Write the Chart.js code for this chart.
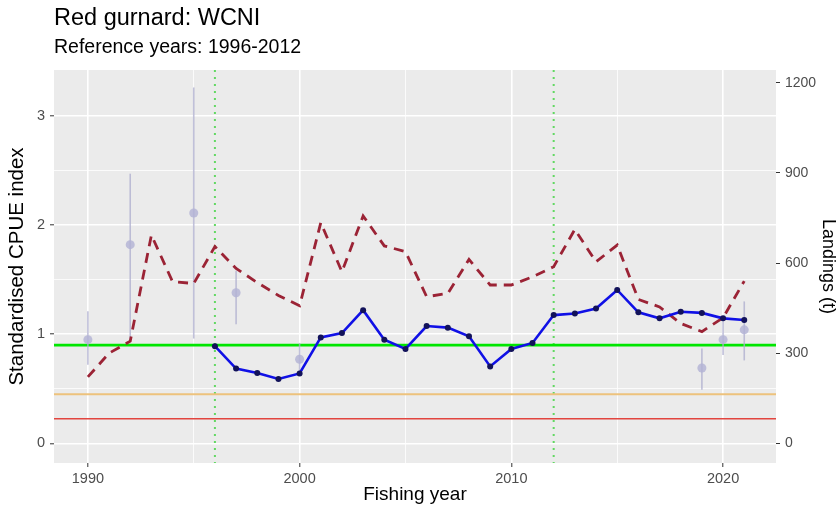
<!DOCTYPE html>
<html>
<head>
<meta charset="utf-8">
<script src="https://cdn.jsdelivr.net/npm/chart.js@4.4.1/dist/chart.umd.min.js"></script>
<style>
  html, body { margin: 0; padding: 0; background: #ffffff; }
  #wrap { width: 839px; height: 513px; }
</style>
</head>
<body>
<div id="wrap"><canvas id="chart" width="839" height="513"></canvas></div>
<script>
// Standardised CPUE index (blue line), fishing years 1996-2021
const cpueYears = [1996, 1997, 1998, 1999, 2000, 2001, 2002, 2003, 2004, 2005, 2006, 2007, 2008,
                   2009, 2010, 2011, 2012, 2013, 2014, 2015, 2016, 2017, 2018, 2019, 2020, 2021];
const cpueIndex = [0.89, 0.685, 0.645, 0.59, 0.64, 0.97, 1.01, 1.22, 0.95, 0.865, 1.075, 1.06, 0.98,
                   0.705, 0.865, 0.92, 1.175, 1.19, 1.235, 1.405, 1.20, 1.145, 1.205, 1.195, 1.145, 1.13];

// Landings in tonnes (dashed line, right axis)
const landingYears = [1990, 1991, 1992, 1993, 1994, 1995, 1996, 1997, 1998, 1999, 2000, 2001, 2002,
                      2003, 2004, 2005, 2006, 2007, 2008, 2009, 2010, 2011, 2012, 2013, 2014, 2015,
                      2016, 2017, 2018, 2019, 2020, 2021];
const landingsT = [221, 300, 340, 693, 538, 532, 655, 582, 535, 492, 458, 734, 571,
                   757, 657, 638, 488, 499, 612, 527, 527, 554, 588, 712, 604, 660,
                   479, 454, 399, 372, 418, 540];

// Unstandardised index with confidence intervals (faint points and bars)
const unstdYears = [1990, 1992, 1995, 1997, 2000, 2019, 2020, 2021];
const unstdIndex = [0.95, 1.82, 2.11, 1.38, 0.77, 0.69, 0.95, 1.04];
const unstdLower = [0.72, 0.95, 0.96, 1.09, 0.65, 0.49, 0.81, 0.76];
const unstdUpper = [1.21, 2.47, 3.26, 1.58, 0.92, 0.87, 1.16, 1.30];

// Reference period and reference levels
const refYears = [1996, 2012];
const targetLevel = 0.9;
const softLimit = 0.45;
const hardLimit = 0.225;

// Axis ticks
const xMajorTicks = [1990, 2000, 2010, 2020];
const xMinorTicks = [1995, 2005, 2015];
const leftMajorTicks = [0, 1, 2, 3];
const leftMinorTicks = [0.5, 1.5, 2.5];
const rightTicks = [0, 300, 600, 900, 1200];

// Tonnes shown per unit of the CPUE index on the secondary axis
const tonnesPerUnit = 363.3;
const yMin = -0.18, yMax = 3.42;

Chart.defaults.font.family = '"Liberation Sans", Arial, Helvetica, sans-serif';

const panelBackground = {
  id: 'panelBackground',
  beforeDraw(chart) {
    const { ctx, chartArea: a } = chart;
    ctx.save();
    ctx.fillStyle = '#EBEBEB';
    ctx.fillRect(a.left, a.top, a.right - a.left, a.bottom - a.top);
    ctx.restore();
  }
};

const referenceMarks = {
  id: 'referenceMarks',
  beforeDatasetsDraw(chart) {
    const { ctx, chartArea: a, scales: { x, y } } = chart;
    ctx.save();
    ctx.beginPath();
    ctx.rect(a.left, a.top, a.right - a.left, a.bottom - a.top);
    ctx.clip();

    // reference period boundaries
    ctx.strokeStyle = '#62D862';
    ctx.lineWidth = 2;
    ctx.setLineDash([2, 5]);
    refYears.forEach(yr => {
      const px = x.getPixelForValue(yr);
      ctx.beginPath();
      ctx.moveTo(px, a.top);
      ctx.lineTo(px, a.bottom);
      ctx.stroke();
    });
    ctx.setLineDash([]);

    // hard limit, soft limit and target levels
    const levels = [
      [hardLimit, '#E2453F', 1.6],
      [softLimit, '#EDC27C', 1.8],
      [targetLevel, '#00E600', 2.6]
    ];
    levels.forEach(([v, col, w]) => {
      const py = y.getPixelForValue(v);
      ctx.strokeStyle = col;
      ctx.lineWidth = w;
      ctx.beginPath();
      ctx.moveTo(a.left, py);
      ctx.lineTo(a.right, py);
      ctx.stroke();
    });

    // confidence intervals of the unstandardised index
    ctx.strokeStyle = 'rgba(172,172,205,0.75)';
    ctx.lineWidth = 1.6;
    unstdYears.forEach((yr, i) => {
      const px = x.getPixelForValue(yr);
      ctx.beginPath();
      ctx.moveTo(px, y.getPixelForValue(unstdLower[i]));
      ctx.lineTo(px, y.getPixelForValue(unstdUpper[i]));
      ctx.stroke();
    });
    ctx.restore();
  }
};

const isIn = (arr, v) => arr.some(t => Math.abs(t - v) < 1e-9);

new Chart(document.getElementById('chart'), {
  data: {
    datasets: [
      {
        type: 'line',
        label: 'Standardised CPUE',
        data: cpueYears.map((yr, i) => ({ x: yr, y: cpueIndex[i] })),
        yAxisID: 'y',
        borderColor: '#1010E6',
        borderWidth: 2.6,
        pointRadius: 3,
        pointBackgroundColor: '#12125A',
        pointBorderWidth: 0,
        tension: 0,
        order: 0
      },
      {
        type: 'scatter',
        label: 'Unstandardised index',
        data: unstdYears.map((yr, i) => ({ x: yr, y: unstdIndex[i] })),
        yAxisID: 'y',
        pointRadius: 4.5,
        pointBackgroundColor: 'rgba(178,178,212,0.8)',
        pointBorderWidth: 0,
        order: 1
      },
      {
        type: 'line',
        label: 'Landings (t)',
        data: landingYears.map((yr, i) => ({ x: yr, y: landingsT[i] })),
        yAxisID: 'y2',
        borderColor: '#9B2335',
        borderWidth: 2.8,
        borderDash: [10, 7],
        pointRadius: 0,
        tension: 0,
        order: 2
      }
    ]
  },
  options: {
    responsive: false,
    animation: false,
    devicePixelRatio: 1,
    layout: { padding: 0 },
    plugins: {
      legend: { display: false },
      tooltip: { enabled: false },
      title: {
        display: true,
        text: 'Red gurnard: WCNI',
        align: 'start',
        fullSize: false,
        color: '#000000',
        font: { size: 23.5, weight: 'normal' },
        padding: { top: 4.4, bottom: 1 }
      },
      subtitle: {
        display: true,
        text: 'Reference years: 1996-2012',
        align: 'start',
        fullSize: false,
        color: '#000000',
        font: { size: 19.5, weight: 'normal' },
        padding: { top: 2.7, bottom: 10.3 }
      }
    },
    scales: {
      x: {
        type: 'linear',
        position: 'bottom',
        min: 1988.4,
        max: 2022.5,
        afterBuildTicks: s => { s.ticks = xMajorTicks.concat(xMinorTicks).sort((a, b) => a - b).map(v => ({ value: v })); },
        afterFit: s => { s.height = 50; },
        border: { display: false },
        grid: {
          color: '#FFFFFF',
          lineWidth: c => (c.tick && isIn(xMinorTicks, c.tick.value)) ? 0.8 : 1.6,
          tickColor: c => (c.tick && isIn(xMinorTicks, c.tick.value)) ? 'rgba(0,0,0,0)' : '#333333',
          tickLength: 4,
          tickWidth: 1
        },
        ticks: {
          autoSkip: false,
          maxRotation: 0,
          padding: 3,
          color: '#4D4D4D',
          font: { size: 14.5 },
          callback: v => isIn(xMajorTicks, v) ? String(v) : ''
        },
        title: {
          display: true,
          text: 'Fishing year',
          color: '#000000',
          font: { size: 19 },
          padding: { top: 0, bottom: 7 }
        }
      },
      y: {
        type: 'linear',
        position: 'left',
        min: yMin,
        max: yMax,
        afterBuildTicks: s => { s.ticks = leftMajorTicks.concat(leftMinorTicks).sort((a, b) => a - b).map(v => ({ value: v })); },
        afterFit: s => { s.width = 54; },
        border: { display: false },
        grid: {
          color: '#FFFFFF',
          lineWidth: c => (c.tick && isIn(leftMinorTicks, c.tick.value)) ? 0.8 : 1.6,
          tickColor: c => (c.tick && isIn(leftMinorTicks, c.tick.value)) ? 'rgba(0,0,0,0)' : '#333333',
          tickLength: 4,
          tickWidth: 1
        },
        ticks: {
          padding: 5,
          color: '#4D4D4D',
          font: { size: 14.5 },
          callback: v => isIn(leftMajorTicks, v) ? String(v) : ''
        },
        title: {
          display: true,
          text: 'Standardised CPUE index',
          color: '#000000',
          font: { size: 20.5 },
          padding: { top: 5, bottom: 0 }
        }
      },
      y2: {
        type: 'linear',
        position: 'right',
        min: yMin * tonnesPerUnit,
        max: yMax * tonnesPerUnit,
        afterBuildTicks: s => { s.ticks = rightTicks.map(v => ({ value: v })); },
        afterFit: s => { s.width = 63; },
        border: { display: false },
        grid: {
          drawOnChartArea: false,
          tickColor: '#333333',
          tickLength: 4,
          tickWidth: 1
        },
        ticks: {
          padding: 5,
          color: '#4D4D4D',
          font: { size: 14 },
          callback: v => String(v)
        },
        title: {
          display: true,
          text: 'Landings (t)',
          color: '#000000',
          font: { size: 18 },
          padding: { top: 0, bottom: 0 }
        }
      }
    }
  },
  plugins: [panelBackground, referenceMarks]
});
</script>
</body>
</html>
